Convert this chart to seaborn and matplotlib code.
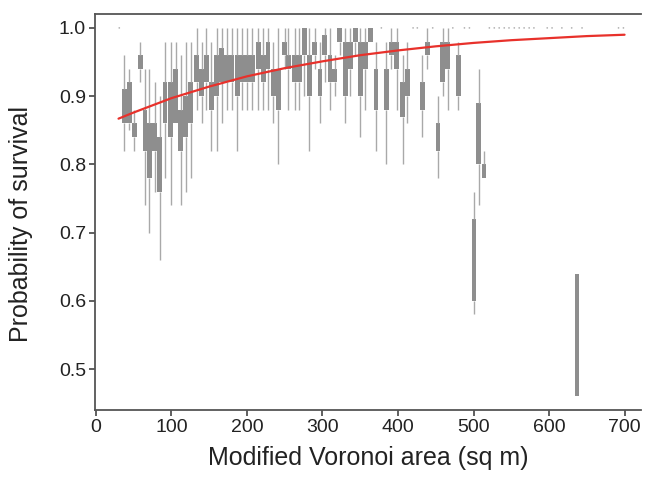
import numpy as np
import pandas as pd
import seaborn as sns
import matplotlib
matplotlib.use("Agg")
import matplotlib.pyplot as plt

# box summaries: area, lower whisker, q1, q3, upper whisker
area = [37.5, 44, 50.7, 58.6, 65, 71, 78, 84.5, 91.5, 99, 105.5, 112.5, 119, 125.7,
        133.5, 140, 146, 153, 160, 166.5, 173.5, 180, 187.5, 194, 200.7, 207, 215,
        221.7, 228, 235, 241.5, 250, 255, 263, 269.5, 276, 282.7, 290, 296.7, 303,
        310, 316.5, 323, 330.5, 337, 343.7, 350, 357, 363.5, 371, 384.5, 391, 398.5,
        406, 412.5, 432, 438.8, 453, 459.5, 466, 479.6, 500.7, 507, 514, 637]
w_lo = [0.82, 0.85, 0.82, 0.92, 0.74, 0.70, 0.76, 0.66, 0.78, 0.74, 0.86, 0.74, 0.76, 0.78,
        0.88, 0.86, 0.88, 0.82, 0.82, 0.86, 0.88, 0.88, 0.82, 0.88, 0.88, 0.88, 0.88,
        0.88, 0.88, 0.86, 0.80, 0.94, 0.88, 0.88, 0.88, 0.90, 0.82, 0.94, 0.86, 0.92,
        0.88, 0.90, 0.96, 0.86, 0.90, 0.96, 0.84, 0.88, 0.98, 0.82, 0.80, 0.94, 0.88,
        0.80, 0.86, 0.84, 0.94, 0.78, 0.90, 0.88, 0.88, 0.58, 0.74, 0.78, 0.46]
q1 = [0.86, 0.86, 0.84, 0.94, 0.82, 0.78, 0.82, 0.76, 0.86, 0.84, 0.86, 0.82, 0.84, 0.86,
      0.92, 0.90, 0.92, 0.88, 0.90, 0.92, 0.92, 0.92, 0.90, 0.92, 0.92, 0.92, 0.94,
      0.92, 0.94, 0.90, 0.88, 0.96, 0.94, 0.92, 0.92, 0.96, 0.90, 0.96, 0.90, 0.96,
      0.92, 0.92, 0.98, 0.90, 0.94, 0.98, 0.90, 0.94, 0.98, 0.88, 0.88, 0.96, 0.94,
      0.87, 0.90, 0.88, 0.96, 0.82, 0.92, 0.94, 0.90, 0.60, 0.80, 0.78, 0.46]
q3 = [0.91, 0.92, 0.86, 0.96, 0.88, 0.86, 0.86, 0.84, 0.92, 0.92, 0.94, 0.88, 0.90, 0.92,
      0.96, 0.94, 0.96, 0.92, 0.96, 0.97, 0.96, 0.96, 0.96, 0.96, 0.96, 0.96, 0.98,
      0.96, 0.98, 0.94, 0.94, 0.98, 0.96, 0.96, 0.96, 1.00, 0.96, 0.98, 0.94, 0.99,
      0.96, 0.94, 1.00, 0.98, 0.98, 1.00, 0.98, 0.98, 1.00, 0.94, 0.94, 0.98, 0.98,
      0.92, 0.94, 0.92, 0.98, 0.86, 0.98, 0.98, 0.96, 0.72, 0.89, 0.80, 0.64]
w_hi = [0.96, 0.94, 0.88, 0.98, 0.94, 0.94, 0.92, 0.90, 0.98, 0.98, 0.98, 0.96, 0.98, 0.98,
        1.00, 0.98, 1.00, 0.98, 1.00, 1.00, 1.00, 1.00, 1.00, 1.00, 1.00, 1.00, 1.00,
        1.00, 1.00, 0.98, 1.00, 1.00, 1.00, 1.00, 1.00, 1.00, 1.00, 1.00, 0.98, 1.00,
        1.00, 0.96, 1.00, 1.00, 1.00, 1.00, 1.00, 1.00, 1.00, 0.98, 0.98, 1.00, 1.00,
        0.96, 0.98, 0.96, 1.00, 0.90, 1.00, 1.00, 0.98, 0.76, 0.94, 0.82, 0.64]

# areas where every value sits at 1.0 (tiny marks along the top)
top_area = [31, 378, 420, 425.6, 446, 472.6, 488, 494.6, 521, 527.5, 534, 540.7, 547,
            554, 560.5, 567, 573.7, 580, 597.6, 604, 617, 630, 643.7, 692, 698.5]

# fitted survival curve
curve_x = [30, 50, 100, 150, 200, 250, 300, 350, 400, 450, 500, 550, 600, 650, 700]
curve_p = [0.867, 0.876, 0.897, 0.914, 0.929, 0.941, 0.951, 0.960, 0.967, 0.973,
           0.978, 0.982, 0.985, 0.988, 0.990]

# long form: five values per box give exactly those quartiles / whisker ends
rows = []
for a, lo, b1, b3, hi in zip(area, w_lo, q1, q3, w_hi):
    for v in (lo, b1, b1, b3, hi):
        rows.append((a, v))
df = pd.DataFrame(rows, columns=["area", "surv"])

sns.set_style("ticks")
plt.rcParams["font.family"] = ["Liberation Sans", "DejaVu Sans"]

fig = plt.figure(figsize=(6.47, 4.92), dpi=100)
ax = fig.add_axes([0.147, 0.1667, 0.844, 0.805])

box_units = 6.4
min_gap = np.min(np.diff(np.unique(area)))
sns.boxplot(data=df, x="area", y="surv", native_scale=True, whis=(0, 100),
            width=box_units / min_gap, color="#8e8e8e", saturation=1,
            linecolor="#8e8e8e", linewidth=0, showcaps=False, fliersize=0,
            whiskerprops=dict(color="#a9a9a9", linewidth=1.0),
            medianprops=dict(color="#8e8e8e", linewidth=0), ax=ax)

sns.scatterplot(x=top_area, y=[1.0] * len(top_area), s=1.5, color="#b0b0b0",
                edgecolor="none", ax=ax)
sns.lineplot(x=curve_x, y=curve_p, color="#e8312b", linewidth=1.6, ax=ax, zorder=5)

ax.set_xlim(-1, 722)
ax.set_ylim(0.44, 1.0205)
ax.set_xticks(range(0, 701, 100))
ax.set_yticks([0.5, 0.6, 0.7, 0.8, 0.9, 1.0])
ax.set_yticklabels(["0.5", "0.6", "0.7", "0.8", "0.9", "1.0"])
ax.set_xlabel("Modified Voronoi area (sq m)", fontsize=18, color="#222222", labelpad=7)
ax.set_ylabel("Probability of survival", fontsize=18, color="#222222")
ax.yaxis.set_label_coords(-0.113, 0.47)
ax.tick_params(direction="out", length=4, width=1.2, color="#444444", pad=2.5,
               labelsize=14, labelcolor="#222222")
for side in ["left", "bottom", "top"]:
    ax.spines[side].set_color("#555555")
    ax.spines[side].set_linewidth(1.3)
ax.spines["right"].set_visible(False)

fig.savefig("out.png", dpi=100)
